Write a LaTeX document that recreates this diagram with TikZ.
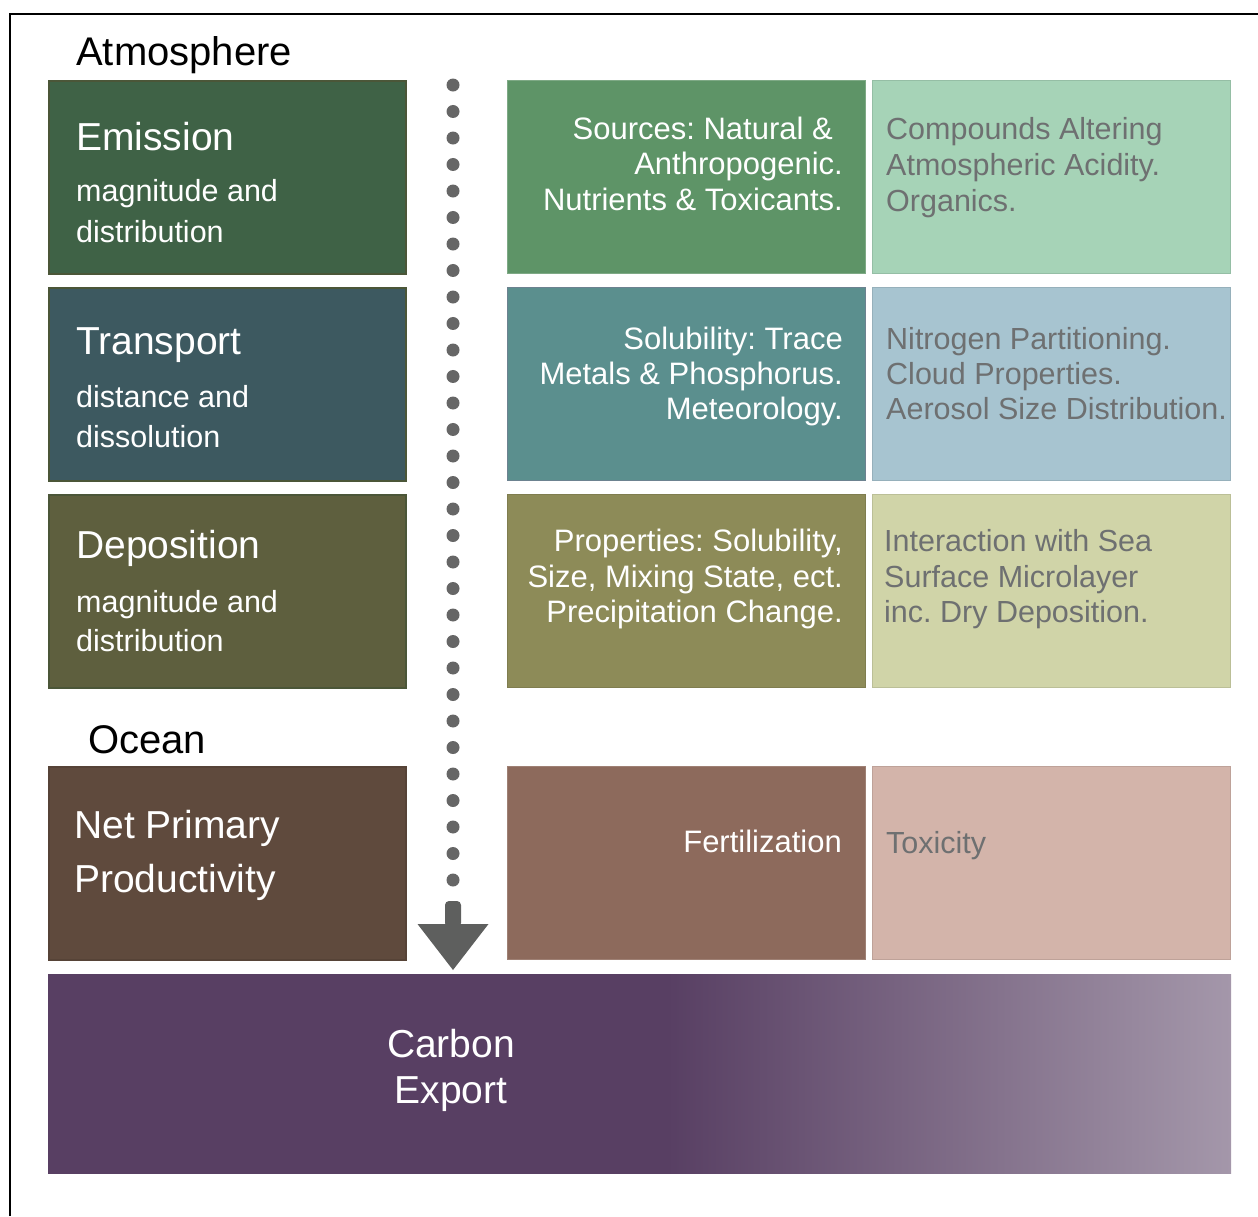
\documentclass[tikz,border=0pt]{standalone}
\usepackage{fontspec}
\setmainfont{Liberation Sans}
\usetikzlibrary{calc}
\definecolor{cEm}{HTML}{3F6246}
\definecolor{cTr}{HTML}{3D5960}
\definecolor{cDe}{HTML}{5E5F3E}
\definecolor{cNp}{HTML}{5F4A3D}
\definecolor{cSo}{HTML}{5E9467}
\definecolor{cCo}{HTML}{A6D3B7}
\definecolor{cSl}{HTML}{5B8F8E}
\definecolor{cNi}{HTML}{A7C4D0}
\definecolor{cPr}{HTML}{8D8B58}
\definecolor{cIn}{HTML}{D0D4A8}
\definecolor{cFe}{HTML}{8D6A5C}
\definecolor{cTo}{HTML}{D3B4AA}
\definecolor{cCa}{HTML}{583F63}
\definecolor{cCaR}{HTML}{A497AA}
\definecolor{cTxt}{HTML}{6E7071}
\definecolor{cDot}{HTML}{666666}
\definecolor{cArr}{HTML}{5E5F5E}
\definecolor{cLeftEdge}{HTML}{4B5638}
\definecolor{cSlEdge}{HTML}{6C8290}
\pgfdeclarehorizontalshading{carbsh}{100bp}{color(0bp)=(cCa); color(25bp)=(cCa); color(51.15bp)=(cCa); color(75bp)=(cCaR); color(100bp)=(cCaR)}
\frenchspacing
\begin{document}
\begin{tikzpicture}[x=1pt,y=-1pt,
  box/.style={rectangle, inner sep=0pt, anchor=north west, minimum width=358pt, minimum height=193pt, fill=#1, draw=#1!90!black, line width=1pt},
  lbox/.style={box=#1, draw=cLeftEdge, line width=1.5pt, minimum width=357pt},
  head/.style={anchor=base west, inner sep=0pt, font=\fontsize{40}{48}\selectfont, text=black},
  ttl/.style={anchor=base west, inner sep=0pt, font=\fontsize{39}{47}\selectfont, text=white},
  sub/.style={anchor=base west, inner sep=0pt, font=\fontsize{30.5}{37}\selectfont, text=white},
  mid/.style={anchor=base east, inner sep=0pt, font=\fontsize{31}{37}\selectfont, text=white},
  rgt/.style={anchor=base west, inner sep=0pt, font=\fontsize{30.5}{37}\selectfont, text=cTxt},
  big/.style={anchor=base, inner sep=0pt, font=\fontsize{39}{47}\selectfont, text=white}
]
\useasboundingbox (0,0) rectangle (1258,1216);
\draw[line width=2pt] (10,1216) -- (10,14) -- (1258,14);

% headings
\node[head] (atm) at (76,65) {Atmosphere};
\node[head] (ocean) at (88,753) {Ocean};

% left column
\node[lbox=cEm] (emis) at (48,80) {};
\node[lbox=cTr] (trans) at (48,287) {};
\node[lbox=cDe] (depo) at (48,494) {};
\node[lbox=cNp, draw=cNp!90!black] (npp) at (48,766) {};

% middle column
\node[box=cSo, draw=cSo!80!white] (sour) at (507,80) {};
\node[box=cSl, draw=cSlEdge] (solu) at (507,287) {};
\node[box=cPr] (prop) at (507,494) {};
\node[box=cFe, draw=cFe!85!white] (fert) at (507,766) {};

% right column
\node[box=cCo] (comp) at (872,80) {};
\node[box=cNi] (nitr) at (872,287) {};
\node[box=cIn] (inter) at (872,494) {};
\node[box=cTo] (toxi) at (872,766) {};

% carbon export
\node[rectangle, inner sep=0pt, anchor=north west, minimum width=1183pt, minimum height=199pt, shading=carbsh] (carb) at (48,974) {};

% left texts
\node[ttl] (t1) at (76,150) {Emission};
\node[sub] (t1a) at (76,201) {magnitude and};
\node[sub] (t1b) at (76,242) {distribution};
\node[ttl] (t2) at (76,354) {Transport};
\node[sub] (t2a) at (76,407) {distance and};
\node[sub] (t2b) at (76,447) {dissolution};
\node[ttl] (t3) at (76,558) {Deposition};
\node[sub] (t3a) at (76,612) {magnitude and};
\node[sub] (t3b) at (76,651) {distribution};
\node[ttl] (t4) at (74,838) {Net Primary};
\node[ttl] (t4a) at (74,892) {Productivity};

% middle texts
\node[mid] (m1) at (833,139) {Sources: Natural \&};
\node[mid] (m1a) at (843,174) {Anthropogenic.};
\node[mid] (m1b) at (843,210) {Nutrients \& Toxicants.};
\node[mid] (m2) at (843,349) {Solubility: Trace};
\node[mid] (m2a) at (843,384) {Metals \& Phosphorus.};
\node[mid] (m2b) at (843,419) {Meteorology.};
\node[mid] (m3) at (843,551) {Properties: Solubility,};
\node[mid] (m3a) at (843,587) {Size, Mixing State, ect.};
\node[mid] (m3b) at (843,622) {Precipitation Change.};
\node[mid] (m4) at (842,852) {Fertilization};

% right texts
\node[rgt] (r1) at (886,139) {Compounds Altering};
\node[rgt] (r1a) at (886,175) {Atmospheric Acidity.};
\node[rgt] (r1b) at (886,211) {Organics.};
\node[rgt] (r2) at (886,349) {Nitrogen Partitioning.};
\node[rgt] (r2a) at (886,384) {Cloud Properties.};
\node[rgt] (r2b) at (886,419) {Aerosol Size Distribution.};
\node[rgt] (r3) at (884,551) {Interaction with Sea};
\node[rgt] (r3a) at (884,587) {Surface Microlayer};
\node[rgt] (r3b) at (884,622) {inc. Dry Deposition.};
\node[rgt] (r4) at (886,853) {Toxicity};

% carbon text
\node[big] (c1) at (451,1057) {Carbon};
\node[big] (c2) at (451,1103) {Export};

% dotted flow and arrow
\coordinate (dtop) at (453,85);
\coordinate (dend) at (453,880);
\foreach \i in {0,...,30} \fill[cDot] ($(dtop)!\i/30!(dend)$) circle (6.5pt);
\coordinate (atop) at (453,901);
\coordinate (atip) at (453,970);
\fill[cArr, rounded corners=4pt] ([shift={(-8,26)}]atop) -- ([shift={(-8,0)}]atop) -- ([shift={(8,0)}]atop) -- ([shift={(8,26)}]atop) -- cycle;
\fill[cArr] ([shift={(-35.5,-46)}]atip) -- ([shift={(35.5,-46)}]atip) -- (atip) -- cycle;
\end{tikzpicture}
\end{document}
